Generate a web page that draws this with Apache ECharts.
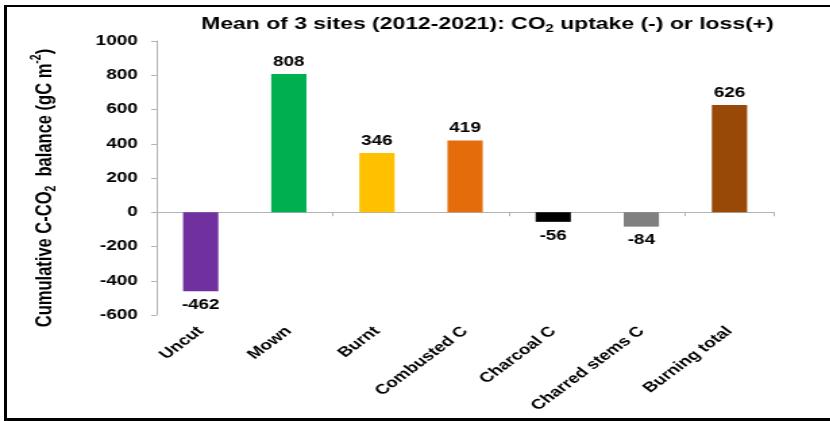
<!DOCTYPE html>
<html>
<head>
<meta charset="utf-8">
<script src="https://cdn.jsdelivr.net/npm/echarts@6/dist/echarts.min.js"></script>
<style>
  html, body { margin: 0; padding: 0; background: #fff; overflow: hidden; }
  #frame {
    position: absolute; left: 4px; top: 5px; width: 840px; height: 411px;
    border-left: 3px solid #000; border-top: 2px solid #000; border-bottom: 3px solid #000;
  }
  /* the source picture is stretched sideways, so draw narrow and scale */
  #chart {
    position: absolute; left: 0; top: 0; width: 615px; height: 421px;
    transform: scaleX(1.35); transform-origin: 0 0;
  }
</style>
</head>
<body>
<div id="frame"></div>
<div id="chart"></div>
<script>
const categories = ['Uncut', 'Mown', 'Burnt', 'Combusted C', 'Charcoal C', 'Charred stems C', 'Burning total']
const balance = [-462, 808, 346, 419, -56, -84, 626]
const barColors = ['#7030A0', '#00B050', '#FFC000', '#E46C0A', '#000000', '#808080', '#984807']
const yTicks = { min: -600, max: 1000, step: 200 }

const font = "'Liberation Sans', Arial, sans-serif"
const grey = '#B3B3B3'

const chart = echarts.init(document.getElementById('chart'))

chart.setOption({
  animation: false,
  title: {
    text: 'Mean of 3 sites (2012-2021): CO{sub|2} uptake (-) or loss(+)',
    left: 144,
    top: 9,
    textStyle: {
      fontFamily: font,
      fontSize: 17,
      fontWeight: 'bold',
      color: '#000',
      lineHeight: 20,
      rich: {
        sub: { fontFamily: font, fontSize: 11, fontWeight: 'bold', color: '#000', verticalAlign: 'bottom', lineHeight: 20, padding: [6, 0, 0, 0] },
      },
    },
  },
  grid: { left: 116, right: 42, top: 41, bottom: 106 },
  xAxis: [
    {
      type: 'category',
      data: categories,
      position: 'bottom',
      axisLine: { show: false, onZero: false },
      axisTick: { show: false },
      axisLabel: {
        rotate: 45,
        margin: 14,
        interval: 0,
        color: '#000',
        fontFamily: font,
        fontSize: 14,
        fontWeight: 'bold',
      },
    },
    {
      type: 'category',
      data: categories,
      position: 'bottom',
      axisLine: { show: true, onZero: true, lineStyle: { color: grey, width: 1 } },
      axisTick: { show: true, length: 4, lineStyle: { color: grey } },
      axisLabel: { show: false },
    },
  ],
  yAxis: {
    type: 'value',
    min: yTicks.min,
    max: yTicks.max,
    interval: yTicks.step,
    name: 'Cumulative C-CO{sub|2}  balance (gC m{sup|-2})',
    nameLocation: 'middle',
    nameGap: 72,
    nameTextStyle: {
      fontFamily: font,
      fontSize: 16.5,
      fontWeight: 'bold',
      color: '#000',
      lineHeight: 22,
      padding: [0, 20, 0, 0],
      rich: {
        sub: { fontFamily: font, fontSize: 10.5, fontWeight: 'bold', color: '#000', verticalAlign: 'bottom', lineHeight: 22, padding: [7, 0, 0, 0] },
        sup: { fontFamily: font, fontSize: 10.5, fontWeight: 'bold', color: '#000', verticalAlign: 'top', lineHeight: 22 },
      },
    },
    axisLine: { show: true, lineStyle: { color: grey, width: 1 } },
    axisTick: { show: true, length: 4, lineStyle: { color: grey } },
    splitLine: { show: false },
    axisLabel: {
      margin: 14,
      color: '#000',
      fontFamily: font,
      fontSize: 14,
      fontWeight: 'bold',
      formatter: (v) => String(v),
    },
  },
  series: [
    {
      type: 'bar',
      xAxisIndex: 0,
      barWidth: '40%',
      data: balance.map((v, i) => ({
        value: v,
        itemStyle: { color: barColors[i] },
        label: { position: v < 0 ? 'bottom' : 'top', distance: v < 0 ? 7 : 5 },
      })),
      label: {
        show: true,
        color: '#000',
        fontFamily: font,
        fontSize: 14,
        fontWeight: 'bold',
      },
    },
  ],
})
</script>
</body>
</html>
